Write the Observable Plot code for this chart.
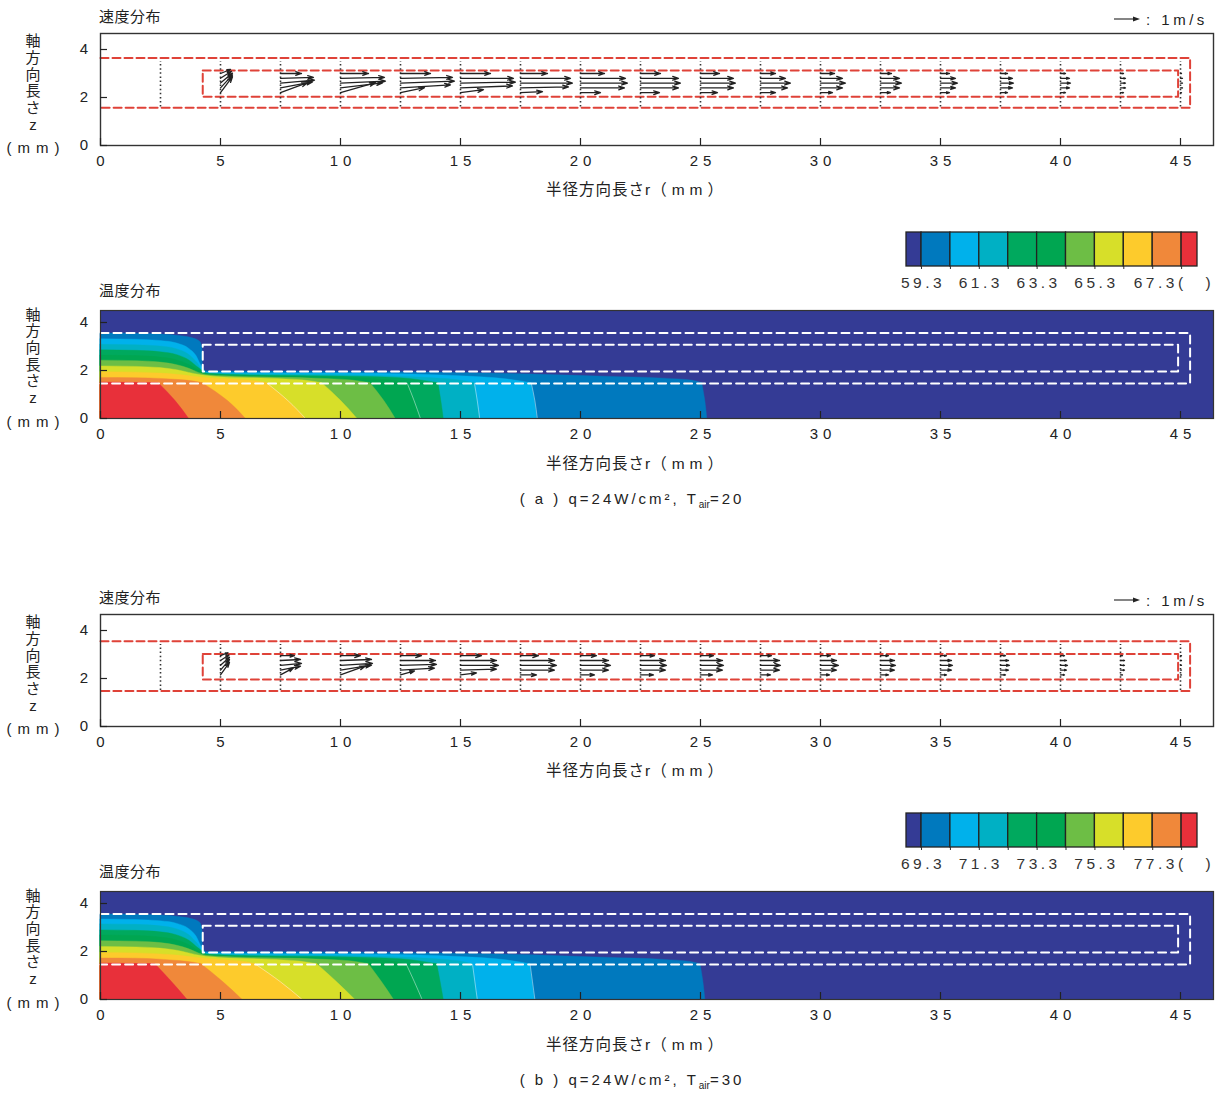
<!DOCTYPE html>
<html><head><meta charset="utf-8">
<script src="https://cdn.jsdelivr.net/npm/d3@7"></script>
<script src="https://cdn.jsdelivr.net/npm/@observablehq/plot@0.6"></script>
<style>
body{margin:0;background:#fff;}
#root{position:relative;width:1216px;height:1097px;overflow:hidden;font-family:"Liberation Sans",Arial,"Noto Sans CJK JP",sans-serif;color:#222;}
#root svg{position:absolute;left:0;overflow:visible;}
</style></head>
<body><div id="root"></div>
<script>
// ---------- axes ----------
const xTicks = [0,5,10,15,20,25,30,35,40,45];
const yTicks = [0,2,4];

// ---------- velocity data ----------
const dotStations = [2.5,5,7.5,10,12.5,15,17.5,20,22.5,25,27.5,30,32.5,35,37.5,40,42.5,45];
const arrowStations = [5,7.5,10,12.5,15,17.5,20,22.5,25,27.5,30,32.5,35,37.5,40,42.5,45];
const arrowZA = [2.2,2.4,2.6,2.8,3.0];
const arrowZB = [2.15,2.35,2.55,2.75,2.95];
const MM_PER_MS = 25/24; // reference arrow: 1 m/s
// radial velocity u (m/s), bottom -> top arrow, per station
const uA = [
 [0.48,0.48,0.48,0.44,0.40],
 [1.08,1.28,1.36,1.32,0.84],
 [1.40,1.68,1.80,1.76,1.12],
 [0.96,2.00,2.16,2.08,1.20],
 [0.92,2.08,2.20,2.12,1.20],
 [0.88,1.92,2.08,2.00,1.08],
 [0.80,1.76,1.88,1.80,0.96],
 [0.76,1.52,1.60,1.52,0.80],
 [0.68,1.32,1.40,1.32,0.76],
 [0.60,1.08,1.20,1.00,0.60],
 [0.48,0.88,1.00,0.88,0.56],
 [0.40,0.76,0.84,0.76,0.44],
 [0.36,0.60,0.68,0.60,0.36],
 [0.28,0.48,0.52,0.48,0.28],
 [0.20,0.36,0.40,0.36,0.20],
 [0.12,0.20,0.20,0.20,0.12],
 [0.04,0.08,0.08,0.08,0.04]];
// axial velocity w (m/s)
const wA = [
 [0.64,0.52,0.40,0.28,0.16],
 [0.40,0.24,0.12,0.04,0.00],
 [0.40,0.20,0.08,0.04,0.00],
 [0.20,0.12,0.08,0.04,0.00],
 [0.12,0.08,0.04,0.00,0.00],
 [0.04,0.04,0.00,0.00,0.00],
 [0,0,0,0,0],[0,0,0,0,0],[0,0,0,0,0],[0,0,0,0,0],[0,0,0,0,0],
 [0,0,0,0,0],[0,0,0,0,0],[0,0,0,0,0],[0,0,0,0,0],[0,0,0,0,0],[0,0,0,0,0]];
const uB = [
 [0.36,0.36,0.36,0.34,0.30],
 [0.52,0.80,0.84,0.80,0.56],
 [1.00,1.24,1.28,1.24,0.80],
 [0.56,1.36,1.44,1.40,0.84],
 [0.64,1.44,1.52,1.44,0.84],
 [0.64,1.36,1.44,1.36,0.72],
 [0.56,1.12,1.20,1.12,0.64],
 [0.52,1.00,1.04,1.00,0.56],
 [0.48,0.88,0.92,0.88,0.52],
 [0.40,0.76,0.80,0.76,0.44],
 [0.36,0.64,0.72,0.64,0.40],
 [0.32,0.56,0.60,0.56,0.32],
 [0.24,0.44,0.48,0.44,0.24],
 [0.20,0.32,0.36,0.32,0.20],
 [0.16,0.24,0.28,0.24,0.16],
 [0.08,0.16,0.16,0.16,0.08],
 [0.04,0.04,0.04,0.04,0.04]];
const wB = [
 [0.50,0.42,0.32,0.22,0.12],
 [0.28,0.16,0.08,0.04,0.00],
 [0.36,0.20,0.08,0.04,0.00],
 [0.16,0.08,0.04,0.00,0.00],
 [0.08,0.04,0.00,0.00,0.00],
 [0,0,0,0,0],[0,0,0,0,0],[0,0,0,0,0],[0,0,0,0,0],[0,0,0,0,0],[0,0,0,0,0],
 [0,0,0,0,0],[0,0,0,0,0],[0,0,0,0,0],[0,0,0,0,0],[0,0,0,0,0],[0,0,0,0,0]];

// geometry (r, z in mm)
const vOuterA = [[0,3.65],[45.4,3.65],[45.4,1.57],[0,1.57]];
const vInnerA = [[4.26,3.12],[44.9,3.12],[44.9,2.03],[4.26,2.03],[4.26,3.12]];
const vDotA = [1.6,3.5];
const vOuterB = [[0,3.55],[45.4,3.55],[45.4,1.48],[0,1.48]];
const vInnerB = [[4.26,3.02],[44.9,3.02],[44.9,1.96],[4.26,1.96],[4.26,3.02]];
const vDotB = [1.5,3.42];
const tOuter = [[0,3.56],[45.4,3.56],[45.4,1.46],[0,1.46]];
const tInner = [[4.26,3.07],[44.9,3.07],[44.9,1.96],[4.26,1.96],[4.26,3.07]];

// ---------- temperature data ----------
const tempColors = ["#343B95","#0079BE","#00B1EB","#00B0C4","#00A95E","#00A651","#6DBE45","#D7DF29","#FDCB2C","#F0883A","#E8303A"];
const levelsA = [59.3,60.3,61.3,62.3,63.3,64.3,65.3,66.3,67.3,68.3];
const levelsB = [69.3,70.3,71.3,72.3,73.3,74.3,75.3,76.3,77.3,78.3];
const legendEdgesA = [58.78,59.3,60.3,61.3,62.3,63.3,64.3,65.3,66.3,67.3,68.3,68.85];
const legendEdgesB = [68.78,69.3,70.3,71.3,72.3,73.3,74.3,75.3,76.3,77.3,78.3,78.85];
const legendLabelsA = ["59.3","61.3","63.3","65.3"];
const legendLabelsB = ["69.3","71.3","73.3","75.3"];
const legendLastA = "67.3";
const legendLastB = "77.3";
// substrate isotherm radius (mm) at z = 0, mid, top, levels low -> high
const subZ = [0,0.735,1.47];
const subBottomA = [25.28,18.2,15.8,14.3,13.33,12.29,10.69,8.54,6.04,3.68];
const subMidA    = [25.2,18.1,15.7,14.2,13.07,11.82,10.02,7.82,5.3,3.12];
const subTopA    = [25.07,17.95,15.58,14.08,12.78,11.25,9.24,6.94,4.26,2.43];
const subBottomB = [25.2,18.1,15.7,14.3,13.4,12.22,10.6,8.4,5.9,3.61];
const subMidB    = [25.12,18.0,15.6,14.17,13.08,11.72,9.84,7.5,5.1,2.97];
const subTopB    = [25.0,17.9,15.5,14.03,12.74,11.18,9.03,6.46,4.21,2.29];
// isotherms in the air gap [r, z], levels low -> high
const airA = [
 [[0,3.54],[1.5,3.53],[2.5,3.5],[3.3,3.44],[3.8,3.35],[4.15,3.2],[4.25,2.9],[4.27,2.2],[4.4,1.97],[6,1.96],[10,1.95],[12.5,1.93],[15,1.9],[18,1.83],[21,1.74],[23.5,1.66],[24.7,1.57],[25.07,1.47]],
 [[0,3.3],[1.5,3.28],[2.5,3.23],[3.2,3.12],[3.7,2.9],[4.0,2.6],[4.2,2.2],[4.4,1.92],[6,1.89],[10,1.87],[13,1.83],[15,1.76],[17,1.62],[17.95,1.47]],
 [[0,3.07],[1.5,3.05],[2.5,3.0],[3.2,2.88],[3.7,2.65],[4.05,2.3],[4.35,1.9],[6,1.84],[10,1.8],[13,1.72],[15,1.58],[15.58,1.47]],
 [[0,2.84],[1.5,2.82],[2.5,2.76],[3.2,2.64],[3.7,2.42],[4.1,2.1],[4.45,1.86],[6,1.8],[10,1.75],[12.5,1.68],[14.08,1.47]],
 [[0,2.62],[1.5,2.6],[2.5,2.54],[3.2,2.42],[3.7,2.23],[4.1,2.0],[4.5,1.83],[6,1.77],[10,1.7],[12,1.6],[12.78,1.47]],
 [[0,2.41],[1.5,2.39],[2.5,2.33],[3.2,2.22],[3.7,2.07],[4.1,1.9],[4.5,1.8],[6,1.73],[9,1.66],[10.5,1.58],[11.25,1.47]],
 [[0,2.17],[1.5,2.15],[2.5,2.1],[3.2,2.01],[3.7,1.9],[4.2,1.8],[5,1.72],[7,1.66],[8.5,1.58],[9.24,1.47]],
 [[0,1.93],[1.5,1.91],[2.5,1.87],[3.2,1.82],[3.8,1.75],[4.5,1.68],[5.5,1.63],[6.5,1.55],[6.94,1.47]],
 [[0,1.69],[1.5,1.68],[2.5,1.65],[3.3,1.6],[3.9,1.54],[4.26,1.47]],
 [[0,1.5],[2.43,1.47]]];
const airB = [
 [[0,3.54],[1.5,3.53],[2.5,3.5],[3.3,3.44],[3.8,3.35],[4.15,3.2],[4.25,2.9],[4.27,2.2],[4.4,1.98],[6,1.97],[10,1.96],[12.5,1.94],[15,1.91],[18,1.84],[21,1.74],[23.5,1.65],[24.6,1.56],[25.0,1.47]],
 [[0,3.33],[1.5,3.31],[2.5,3.26],[3.2,3.15],[3.7,2.93],[4.0,2.62],[4.2,2.22],[4.4,1.93],[6,1.9],[10,1.88],[13,1.84],[15,1.77],[17,1.62],[17.9,1.47]],
 [[0,3.13],[1.5,3.11],[2.5,3.05],[3.2,2.92],[3.7,2.68],[4.05,2.32],[4.35,1.91],[6,1.85],[10,1.81],[13,1.73],[15,1.58],[15.5,1.47]],
 [[0,2.88],[1.5,2.86],[2.5,2.8],[3.2,2.67],[3.7,2.45],[4.1,2.12],[4.45,1.87],[6,1.81],[10,1.76],[12.5,1.68],[14.03,1.47]],
 [[0,2.67],[1.5,2.65],[2.5,2.58],[3.2,2.46],[3.7,2.26],[4.1,2.02],[4.5,1.84],[6,1.78],[10,1.71],[12,1.6],[12.74,1.47]],
 [[0,2.43],[1.5,2.41],[2.5,2.35],[3.2,2.24],[3.7,2.09],[4.1,1.92],[4.5,1.81],[6,1.74],[9,1.67],[10.5,1.58],[11.18,1.47]],
 [[0,2.19],[1.5,2.17],[2.5,2.12],[3.2,2.03],[3.7,1.92],[4.2,1.81],[5,1.73],[7,1.66],[8.3,1.58],[9.03,1.47]],
 [[0,1.94],[1.5,1.92],[2.5,1.88],[3.2,1.83],[3.8,1.76],[4.5,1.69],[5.3,1.63],[6.1,1.55],[6.46,1.47]],
 [[0,1.71],[1.5,1.7],[2.5,1.66],[3.3,1.6],[3.9,1.53],[4.21,1.47]],
 [[0,1.5],[2.29,1.47]]];
const whiteEdgeLevels = [1,2,4,7];

// ---------- helpers ----------
const root = document.getElementById("root");
const W = 1216, ML = 100, MR = 3;
const XDOM = [0, (W-ML-MR)/24];
const svgStyle = {fontSize:"15px", fontFamily:'"Liberation Sans",Arial,sans-serif', letterSpacing:"5px", color:"#222", background:"transparent", overflow:"visible"};

function put(svg, top){ svg.style.top = top + "px"; root.appendChild(svg); }
function txt(html, x, yc, anchor="start", size=15, spacing=0, color="#222"){
  const d = document.createElement("div");
  d.innerHTML = html;
  const tx = anchor==="middle" ? "-50%" : anchor==="end" ? "-100%" : "0";
  d.style.cssText = `position:absolute;white-space:nowrap;font-size:${size}px;letter-spacing:${spacing}px;color:${color};line-height:1;left:${x}px;top:${yc}px;transform:translate(${tx},-50%);`;
  root.appendChild(d);
  return d;
}
function yTitle(firstCenter){
  const d = document.createElement("div");
  d.style.cssText = `position:absolute;left:0;width:66px;top:${firstCenter-8.5}px;text-align:center;font-size:15px;color:#222;line-height:16.7px;`;
  ["軸","方","向","長","さ","z"].forEach(c=>{ const s=document.createElement("div"); s.textContent=c; d.appendChild(s); });
  root.appendChild(d);
  txt("(mm)", 36, firstCenter + 105.5, "middle", 15, 6);
}
function axesMarks(frameH){
  return [
    Plot.ruleX(xTicks, {insetTop: frameH-7, stroke:"#222", strokeWidth:1.2}),
    Plot.ruleY(yTicks, {insetRight: (W-ML-MR)-7, stroke:"#222", strokeWidth:1.2}),
    Plot.axisX({ticks:xTicks, tickSize:0, tickPadding:10, label:null, dx:2.5, tickFormat:d=>String(d)}),
    Plot.axisY({ticks:yTicks, tickSize:0, tickPadding:10, label:null, dx:2.5, tickFormat:d=>String(d)})
  ];
}
const pt = a => a.map(([r,z])=>({r,z}));

function velPlot(u, w, zs, outer, inner, dotZ){
  const arrows = [];
  arrowStations.forEach((r,i)=> zs.forEach((z,j)=> arrows.push({r, z, u:u[i][j], w:w[i][j]})));
  const FH = 112;
  return Plot.plot({
    width:W, height:FH+2+32, marginLeft:ML, marginRight:MR, marginTop:2, marginBottom:32,
    x:{domain:XDOM, label:null}, y:{domain:[0, FH/24], label:null},
    style:svgStyle,
    marks:[
      Plot.line(pt(outer), {x:"r", y:"z", stroke:"#DF4238", strokeWidth:2, strokeDasharray:"8,4"}),
      Plot.line(pt(inner), {x:"r", y:"z", stroke:"#DF4238", strokeWidth:2, strokeDasharray:"8,4"}),
      Plot.ruleX(dotStations, {y1:dotZ[0], y2:dotZ[1], stroke:"#333", strokeWidth:1.6, strokeDasharray:"1.5,2.6"}),
      Plot.arrow(arrows, {x1:"r", y1:"z", x2:d=>d.r+d.u*MM_PER_MS, y2:d=>d.z+d.w*MM_PER_MS,
        stroke:"#222", strokeWidth:1.3, headLength:7, headAngle:36}),
      Plot.frame({stroke:"#333", strokeWidth:1.4}),
      ...axesMarks(FH)
    ]
  });
}

function tempPlot(air, sb, sm, st){
  const FH = 108;
  const marks = [Plot.frame({fill:tempColors[0]})];
  for (let k=0;k<10;k++){
    const c = tempColors[k+1];
    marks.push(Plot.areaY(pt(air[k]), {x:"r", y:"z", fill:c, stroke:c, strokeWidth:0.4, curve:"monotone-x"}));
    const sub = [{r:sb[k],z:subZ[0]},{r:sm[k],z:subZ[1]},{r:st[k],z:subZ[2]}];
    marks.push(Plot.areaX(sub, {x:"r", y:"z", fill:c, stroke:c, strokeWidth:0.4, curve:"monotone-y"}));
  }
  whiteEdgeLevels.forEach(k=>{
    const sub = [{r:sb[k],z:subZ[0]},{r:sm[k],z:subZ[1]},{r:st[k],z:subZ[2]}];
    marks.push(Plot.line(sub, {x:"r", y:"z", stroke:"white", strokeOpacity:0.55, strokeWidth:0.8, curve:"monotone-y"}));
  });
  marks.push(
    Plot.line(pt(tOuter), {x:"r", y:"z", stroke:"white", strokeWidth:2, strokeDasharray:"8,5"}),
    Plot.line(pt(tInner), {x:"r", y:"z", stroke:"white", strokeWidth:2, strokeDasharray:"8,5"}),
    Plot.frame({stroke:"#333", strokeWidth:1.2}),
    ...axesMarks(FH)
  );
  return Plot.plot({
    width:W, height:FH+2+32, marginLeft:ML, marginRight:MR, marginTop:2, marginBottom:32,
    x:{domain:XDOM, label:null}, y:{domain:[0, FH/24], label:null},
    style:svgStyle, marks
  });
}

function legendPlot(edges, labelVals, labels, lastVal, lastLabel){
  const bins = tempColors.map((c,i)=>({lo:edges[i], hi:edges[i+1], c}));
  return Plot.plot({
    width:W, height:1+34+30, marginLeft:906, marginRight:W-1197, marginTop:1, marginBottom:30,
    x:{domain:[edges[0], edges[edges.length-1]], label:null},
    color:{type:"identity"},
    style:{...svgStyle, letterSpacing:"3.5px", color:"#333", fontSize:"15.5px"},
    marks:[
      Plot.rect(bins, {x1:"lo", x2:"hi", fill:"c", stroke:"#222", strokeWidth:1.3}),
      Plot.axisX({ticks:edges.slice(1,-1), tickSize:3, tickFormat:()=>"", label:null}),
      Plot.text(labelVals, {x:d=>d, text:(d,i)=>labels[i], frameAnchor:"bottom", dy:21, dx:1.5, fill:"#333"}),
      Plot.text([lastVal], {x:d=>d, text:()=>lastLabel + "(\u2003)", frameAnchor:"bottom", dy:21, dx:-19, textAnchor:"start", fill:"#333"})
    ]
  });
}

function refArrow(yc){
  const ns = "http://www.w3.org/2000/svg";
  const s = document.createElementNS(ns, "svg");
  s.setAttribute("width", 30); s.setAttribute("height", 10);
  s.style.cssText = `position:absolute;left:1114px;top:${yc-5}px;`;
  s.innerHTML = '<line x1="0" y1="5" x2="21" y2="5" stroke="#222" stroke-width="1.1"/><path d="M26,5 L19,2.6 L19,7.4 Z" fill="#222"/>';
  root.appendChild(s);
}

function block(o, v, t){
  txt("速度分布", 99, 16+o, "start", 15, 0.5);
  refArrow(19+o);
  txt(":&nbsp;1m/s", 1146, 19+o, "start", 15, 3.5);
  yTitle(41.7+o);
  put(velPlot(v.u, v.w, v.zs, v.outer, v.inner, v.dot), 31.3+o);
  txt('半径方向長さr<span style="letter-spacing:5px">（mm）</span>', 637, 190+o, "middle", 15.5, 1);
  put(legendPlot(t.edges, t.labelVals, t.labels, t.lastVal, t.lastLabel), 231+o);
  txt("温度分布", 99, 290+o, "start", 15, 0.5);
  yTitle(315+o);
  put(tempPlot(t.air, t.sb, t.sm, t.st), 307.5+o);
  txt('半径方向長さr<span style="letter-spacing:5px">（mm）</span>', 637, 464+o, "middle", 15.5, 1);
  txt(t.caption, 632, 500+o, "middle", 15, 3);
}

block(0,
  {u:uA, w:wA, zs:arrowZA, outer:vOuterA, inner:vInnerA, dot:vDotA},
  {edges:legendEdgesA, labelVals:levelsA.filter((d,i)=>i%2===0 && i<8), labels:legendLabelsA, lastVal:levelsA[8], lastLabel:legendLastA,
   air:airA, sb:subBottomA, sm:subMidA, st:subTopA,
   caption:'( a ) q=24W/cm², T<sub style="font-size:10px;letter-spacing:0">air</sub>=20'});
block(581,
  {u:uB, w:wB, zs:arrowZB, outer:vOuterB, inner:vInnerB, dot:vDotB},
  {edges:legendEdgesB, labelVals:levelsB.filter((d,i)=>i%2===0 && i<8), labels:legendLabelsB, lastVal:levelsB[8], lastLabel:legendLastB,
   air:airB, sb:subBottomB, sm:subMidB, st:subTopB,
   caption:'( b ) q=24W/cm², T<sub style="font-size:10px;letter-spacing:0">air</sub>=30'});
</script>
</body></html>
